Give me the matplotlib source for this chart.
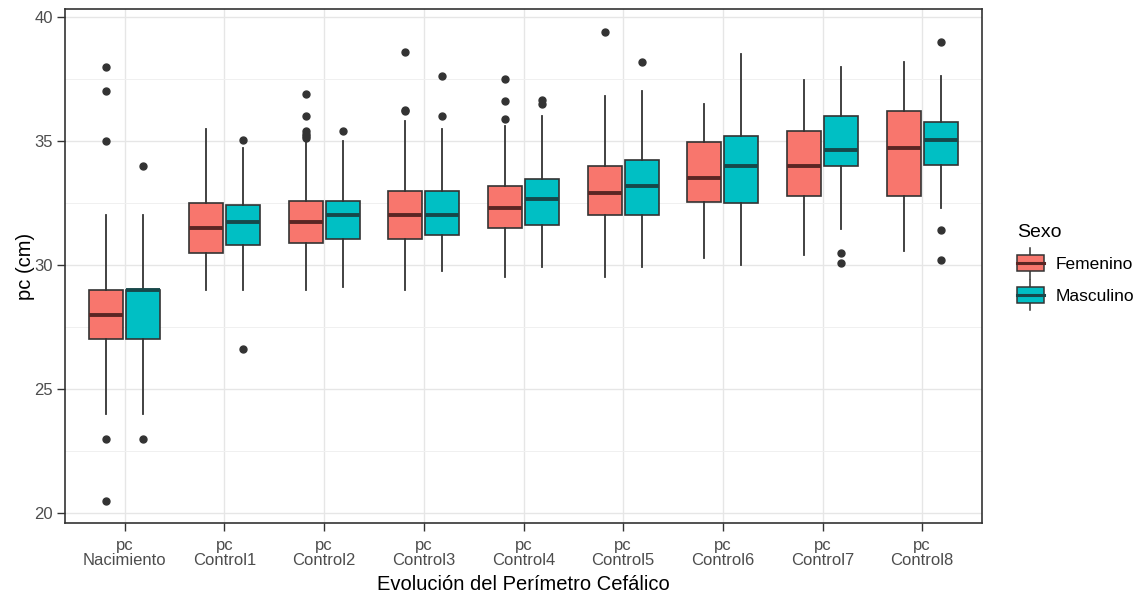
import matplotlib.pyplot as plt
from matplotlib.legend_handler import HandlerBase
from matplotlib.patches import Rectangle
from matplotlib.lines import Line2D

plt.rcParams['font.family'] = ['Liberation Sans', 'DejaVu Sans']

# cuartiles, bigotes y atipicos del perimetro cefalico (cm)
categorias = ['pc\nNacimiento', 'pc\nControl1', 'pc\nControl2', 'pc\nControl3', 'pc\nControl4',
              'pc\nControl5', 'pc\nControl6', 'pc\nControl7', 'pc\nControl8']

fem_q1 = [27.0, 30.5, 30.9, 31.05, 31.5, 32.0, 32.55, 32.8, 32.8]
fem_med = [28.0, 31.5, 31.75, 32.0, 32.3, 32.9, 33.5, 34.0, 34.7]
fem_q3 = [29.0, 32.5, 32.6, 33.0, 33.2, 34.0, 34.95, 35.4, 36.2]
fem_lo = [24.0, 29.0, 29.0, 29.0, 29.5, 29.5, 30.3, 30.4, 30.55]
fem_hi = [32.0, 35.5, 35.0, 35.8, 35.6, 36.8, 36.5, 37.45, 38.2]
fem_out = [[38.0, 37.0, 35.0, 23.0, 20.5], [], [35.1, 35.2, 35.3, 35.4, 36.0, 36.9],
           [36.2, 36.25, 38.6], [35.9, 36.6, 37.5], [39.4], [], [], []]

mas_q1 = [27.0, 30.8, 31.05, 31.2, 31.6, 32.0, 32.5, 34.0, 34.05]
mas_med = [29.0, 31.75, 32.0, 32.0, 32.65, 33.2, 34.0, 34.65, 35.05]
mas_q3 = [29.0, 32.4, 32.6, 33.0, 33.45, 34.25, 35.2, 36.0, 35.75]
mas_lo = [24.0, 29.0, 29.1, 29.75, 29.9, 29.9, 30.0, 31.45, 32.3]
mas_hi = [32.0, 34.7, 35.0, 35.5, 36.0, 37.0, 38.5, 38.0, 37.6]
mas_out = [[34.0, 23.0], [35.05, 26.6], [35.4], [36.0, 37.6], [36.5, 36.65], [38.2],
           [], [30.5, 30.1], [39.0, 31.4, 30.2]]

sexos = ['Femenino', 'Masculino']
colores = ['#F8766D', '#00BFC4']
medianas = ['#5a2624', '#17484a']
borde = '#333333'


def stats(q1, med, q3, lo, hi, out):
    return [dict(q1=a, med=b, q3=c, whislo=d, whishi=e, fliers=f)
            for a, b, c, d, e, f in zip(q1, med, q3, lo, hi, out)]


class HandlerBox(HandlerBase):
    """ Clave de leyenda con forma de caja y bigotes. """

    def __init__(self, fc, mc):
        super().__init__()
        self.fc = fc
        self.mc = mc

    def create_artists(self, legend, orig_handle, xdescent, ydescent, width, height, fontsize, trans):
        x0, y0 = -xdescent, -ydescent
        h = height
        rect = Rectangle((x0, y0), width, h, facecolor=self.fc, edgecolor=borde, lw=1.1, transform=trans)
        cx = x0 + width / 2
        w1 = Line2D([cx, cx], [y0 + h, y0 + h + 0.45 * h], color=borde, lw=1.1, transform=trans)
        w2 = Line2D([cx, cx], [y0, y0 - 0.45 * h], color=borde, lw=1.1, transform=trans)
        med = Line2D([x0, x0 + width], [y0 + h / 2, y0 + h / 2], color=self.mc, lw=2.2, transform=trans)
        return [w1, w2, rect, med]


fig = plt.figure(figsize=(11.45, 5.96), dpi=100)
ax = fig.add_axes([65 / 1145, 1 - 523 / 596, 917 / 1145, 514 / 596])

pos = list(range(1, len(categorias) + 1))
series = [stats(fem_q1, fem_med, fem_q3, fem_lo, fem_hi, fem_out),
          stats(mas_q1, mas_med, mas_q3, mas_lo, mas_hi, mas_out)]
for k, (st, fc, mc) in enumerate(zip(series, colores, medianas)):
    off = -0.185 if k == 0 else 0.185
    ax.bxp(st, positions=[p + off for p in pos], widths=0.34, patch_artist=True,
           showcaps=False, manage_ticks=False,
           boxprops=dict(facecolor=fc, edgecolor=borde, linewidth=1.2),
           whiskerprops=dict(color=borde, linewidth=1.3),
           medianprops=dict(color=mc, linewidth=2.8, solid_capstyle='butt'),
           flierprops=dict(marker='o', markerfacecolor=borde, markeredgecolor=borde,
                           markersize=5, linestyle='none'))

ax.set_xlim(0.4, len(categorias) + 0.6)
ax.set_ylim(19.6, 40.32)
ax.set_xticks(pos)
ax.set_xticklabels(categorias, linespacing=1.0)
ax.set_yticks([20, 25, 30, 35, 40])
ax.set_yticks([22.5, 27.5, 32.5, 37.5], minor=True)
ax.grid(True, which='major', color='#E6E6E6', linewidth=1.0)
ax.grid(True, which='minor', axis='y', color='#F0F0F0', linewidth=0.7)
ax.set_axisbelow(True)
for s in ax.spines.values():
    s.set_color(borde)
    s.set_linewidth(1.2)
ax.tick_params(which='major', length=5.5, width=1.0, color=borde, labelcolor='#4D4D4D',
               labelsize=12, pad=3)
ax.tick_params(axis='x', pad=5)
ax.tick_params(which='minor', length=0)

ax.set_xlabel('Evolución del Perímetro Cefálico', fontsize=14.5, color='black', labelpad=5)
ax.set_ylabel('pc (cm)', fontsize=14.5, color='black', labelpad=0)

handles = [Rectangle((0, 0), 1, 1) for _ in sexos]
leg = fig.legend(handles, sexos, title='Sexo', loc='upper left',
                 bbox_to_anchor=(1001 / 1145, 1 - 208 / 596), frameon=False,
                 fontsize=12.5, title_fontsize=14, handlelength=1.55, handleheight=1.05,
                 labelspacing=0.85, handletextpad=0.7, alignment='left',
                 handler_map={handles[0]: HandlerBox(colores[0], medianas[0]),
                              handles[1]: HandlerBox(colores[1], medianas[1])})

fig.savefig('out.png', dpi=100)
